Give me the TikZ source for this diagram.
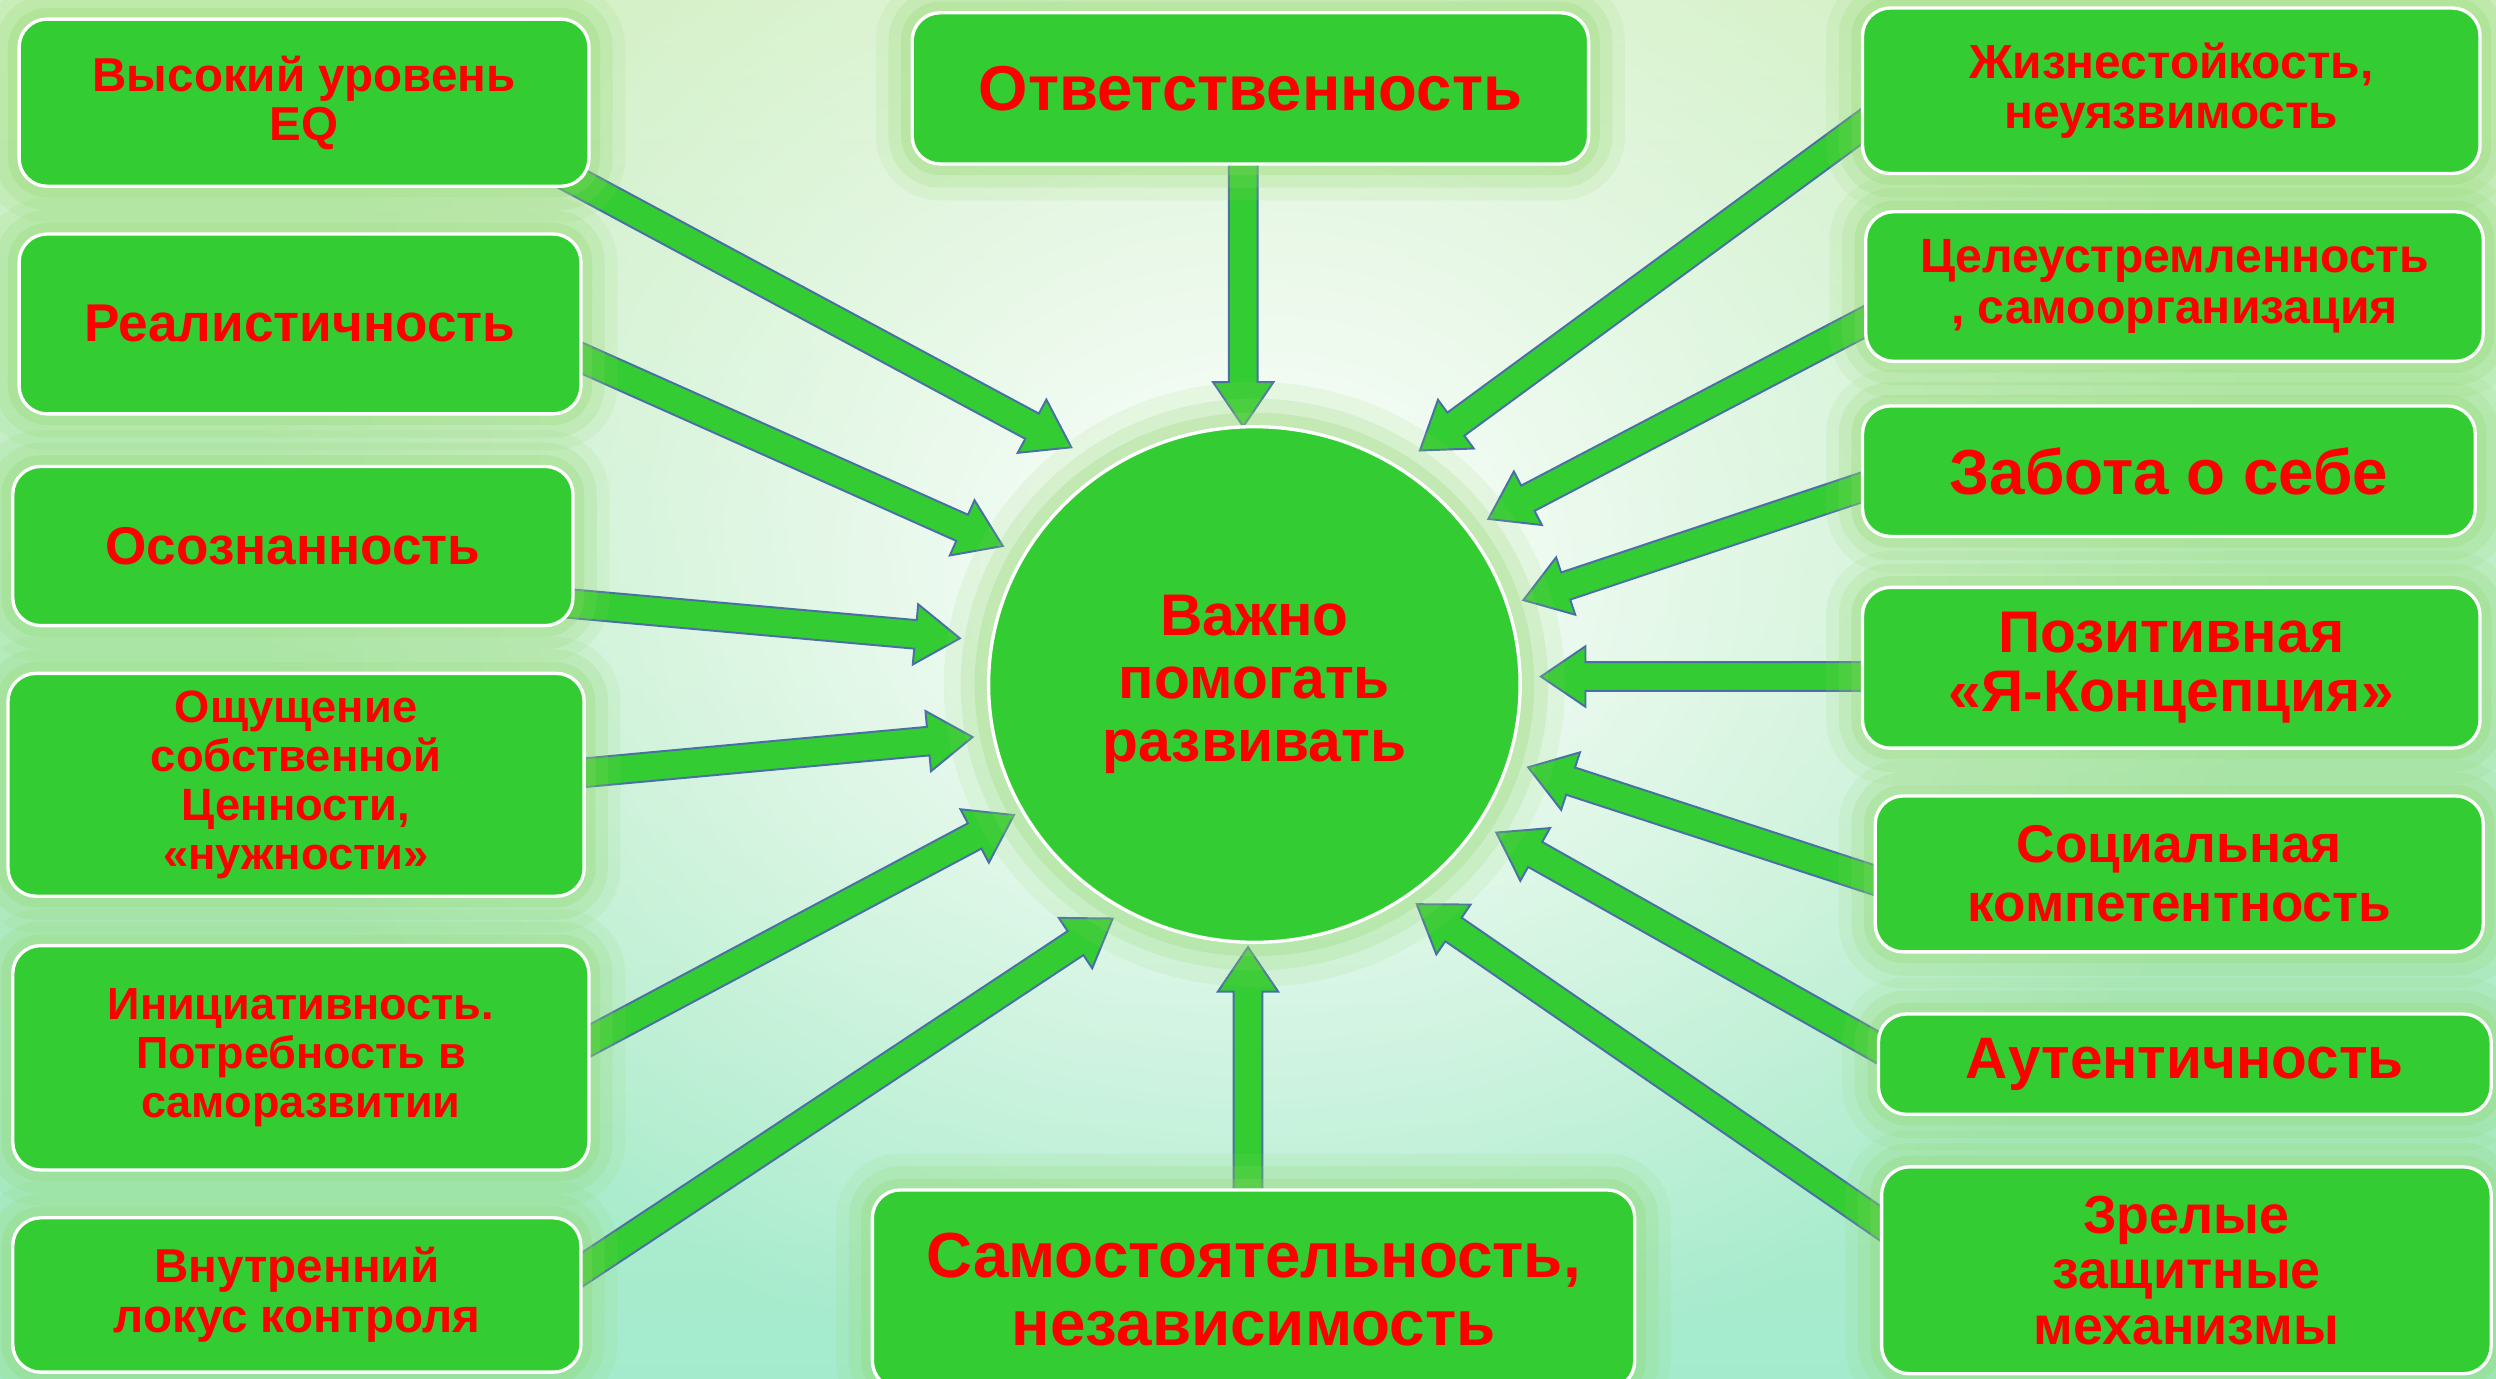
\documentclass[tikz,border=0pt]{standalone}
\usepackage{fontspec}
\setmainfont{Liberation Sans}
\usetikzlibrary{shapes.geometric,calc,fadings}

\definecolor{boxgreen}{HTML}{33CC33}
\definecolor{textred}{HTML}{FF0000}
\definecolor{arrowblue}{HTML}{4A6FA5}
\definecolor{glowgreen}{HTML}{8FD86A}
\definecolor{bgtop}{HTML}{D2F0C4}
\definecolor{bgbottom}{HTML}{A4EBCE}

\tikzfading[name=centreglow, inner color=transparent!0, outer color=transparent!100]

\pgfdeclarelayer{back}
\pgfdeclarelayer{arrows}
\pgfsetlayers{back,arrows,main}

\newcommand\boxfont[2]{\fontsize{#1}{#2}\selectfont\bfseries}
\newcommand\shaftw{0.18cm}
\newcommand\headw{0.38cm}
\newcommand\headx{0.2cm}
\newcommand\bigarrow[2]{%
  \draw[arrowbody] let \p1=(#1), \p2=(#2), \n1={atan2(\y2-\y1,\x2-\x1)},
    \n2={veclen(\x2-\x1,\y2-\y1)-0.56cm} in
    ($(\p1)+(\n1+90:\shaftw)$) -- ++(\n1:\n2) -- ++(\n1+90:\headx) -- (\p2)
    -- ($(\p1)+(\n1:\n2)+(\n1-90:\headw)$) -- ++(\n1+90:\headx)
    -- ($(\p1)+(\n1-90:\shaftw)$) -- cycle;}

\tikzset{
  box/.style={draw=white, line width=1.2pt, fill=boxgreen, rounded corners=0.35cm,
    text=textred, align=center, inner sep=2pt,
    preaction={draw=glowgreen, line width=26pt, opacity=0.12},
    preaction={draw=glowgreen, line width=17pt, opacity=0.18},
    preaction={draw=glowgreen, line width=8pt, opacity=0.25}},
  hub/.style={ellipse, draw=white, line width=1.2pt, fill=boxgreen, text=textred,
    align=center, inner sep=0pt, minimum width=6.68cm, minimum height=6.48cm,
    preaction={draw=glowgreen, line width=32pt, opacity=0.12},
    preaction={draw=glowgreen, line width=20pt, opacity=0.18},
    preaction={draw=glowgreen, line width=10pt, opacity=0.25}},
  arrowbody/.style={fill=boxgreen, draw=arrowblue, line width=0.7pt, line join=miter}
}

\begin{document}
\begin{tikzpicture}[x=0.02cm, y=-0.02cm]
\useasboundingbox (0,0) rectangle (1568,866);
\begin{pgfonlayer}{back}
\shade[top color=bgtop, bottom color=bgbottom] (0,0) rectangle (1568,866);
\begin{scope}
\clip (0,0) rectangle (1568,866);
\fill[white, path fading=centreglow] (790,360) ellipse [x radius=640, y radius=520];
\end{scope}
\end{pgfonlayer}

% centre
\node[hub, font=\boxfont{21}{22.4}] (hub) at (788,430) {Важно\\помогать\\развивать};

% left column
\node[box, minimum width=7.16cm, minimum height=2.1cm, font=\boxfont{17}{17.5}] (eq) at (191,64.5) {Высокий уровень\\EQ};
\node[box, minimum width=7.06cm, minimum height=2.26cm, font=\boxfont{19}{20}] (real) at (188.5,203.5) {Реалистичность};
\node[box, minimum width=7.04cm, minimum height=2cm, font=\boxfont{19}{20}] (aware) at (184,343) {Осознанность};
\node[box, minimum width=7.24cm, minimum height=2.8cm, font=\boxfont{16.2}{17.6}] (worth) at (186,493) {Ощущение\\собственной\\Ценности,\\«нужности»};
\node[box, minimum width=7.24cm, minimum height=2.82cm, font=\boxfont{16.1}{17.6}] (init) at (189,664.5) {Инициативность.\\Потребность в\\саморазвитии};
\node[box, minimum width=7.14cm, minimum height=1.94cm, font=\boxfont{17}{18}] (locus) at (186.5,813.5) {Внутренний\\локус контроля};

% top and bottom
\node[box, minimum width=8.5cm, minimum height=1.9cm, font=\boxfont{22.7}{24}] (resp) at (785.5,55.5) {Ответственность};
\node[box, minimum width=9.58cm, minimum height=2.5cm, font=\boxfont{22.8}{24.4}] (indep) at (787.5,810) {Самостоятельность,\\независимость};

% right column
\node[box, minimum width=7.76cm, minimum height=2.08cm, font=\boxfont{17.1}{18}] (hardy) at (1364,57) {Жизнестойкость,\\неуязвимость};
\node[box, minimum width=7.76cm, minimum height=1.88cm, font=\boxfont{17.2}{18}] (goal) at (1366,180) {Целеустремленность\\, самоорганизация};
\node[box, minimum width=7.7cm, minimum height=1.64cm, font=\boxfont{22.8}{24}] (care) at (1362.5,296) {Забота о себе};
\node[box, minimum width=7.76cm, minimum height=2.02cm, font=\boxfont{21}{21}] (self) at (1364,419.5) {Позитивная\\«Я-Концепция»};
\node[box, minimum width=7.64cm, minimum height=1.96cm, font=\boxfont{19}{21}] (social) at (1369,549) {Социальная\\компетентность};
\node[box, minimum width=7.7cm, minimum height=1.26cm, font=\boxfont{20.9}{22}] (auth) at (1372.5,668.5) {Аутентичность};
\node[box, minimum width=7.66cm, minimum height=2.6cm, font=\boxfont{19.2}{19.8}] (defence) at (1373.5,798) {Зрелые\\защитные\\механизмы};

% arrow ends
\coordinate (eq-out) at (340,102);      \coordinate (eq-in) at (673,281);
\coordinate (real-out) at (350,218);    \coordinate (real-in) at (630,343);
\coordinate (aware-out) at (345,378);   \coordinate (aware-in) at (603,401);
\coordinate (worth-out) at (350,487);   \coordinate (worth-in) at (611,463);
\coordinate (init-out) at (355,662);    \coordinate (init-in) at (637,512);
\coordinate (locus-out) at (350,808);   \coordinate (locus-in) at (699,577);
\coordinate (resp-out) at (781,95);     \coordinate (resp-in) at (781,268);
\coordinate (indep-out) at (784,760);   \coordinate (indep-in) at (784,595);
\coordinate (hardy-out) at (1185,68);   \coordinate (hardy-in) at (892,283);
\coordinate (goal-out) at (1185,195);   \coordinate (goal-in) at (935,326);
\coordinate (care-out) at (1185,301);   \coordinate (care-in) at (957,377);
\coordinate (self-out) at (1185,425);   \coordinate (self-in) at (968,425);
\coordinate (social-out) at (1190,557); \coordinate (social-in) at (960,482);
\coordinate (auth-out) at (1192,665);   \coordinate (auth-in) at (940,523);
\coordinate (defence-out) at (1195,778);\coordinate (defence-in) at (890,568);

\begin{pgfonlayer}{arrows}
\bigarrow{eq-out}{eq-in}
\bigarrow{real-out}{real-in}
\bigarrow{aware-out}{aware-in}
\bigarrow{worth-out}{worth-in}
\bigarrow{init-out}{init-in}
\bigarrow{locus-out}{locus-in}
\bigarrow{resp-out}{resp-in}
\bigarrow{indep-out}{indep-in}
\bigarrow{hardy-out}{hardy-in}
\bigarrow{goal-out}{goal-in}
\bigarrow{care-out}{care-in}
\bigarrow{self-out}{self-in}
\bigarrow{social-out}{social-in}
\bigarrow{auth-out}{auth-in}
\bigarrow{defence-out}{defence-in}
\end{pgfonlayer}
\end{tikzpicture}
\end{document}
